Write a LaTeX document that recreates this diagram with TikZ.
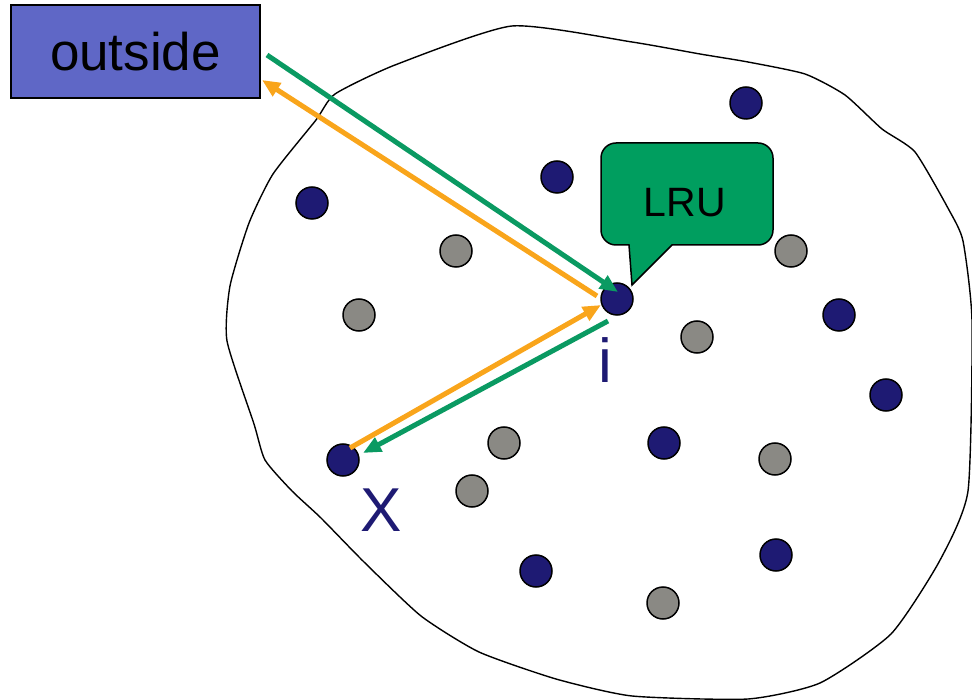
\documentclass[tikz,border=0pt]{standalone}
\usepackage{fontspec}
\setmainfont{Liberation Sans}
\usetikzlibrary{arrows.meta,positioning}
\definecolor{dotblue}{HTML}{1E1A73}
\definecolor{dotgray}{HTML}{8A8984}
\definecolor{boxblue}{HTML}{5F67C6}
\definecolor{lrugreen}{HTML}{009E5F}
\definecolor{arrgreen}{HTML}{0A9A62}
\definecolor{arrorange}{HTML}{F9A51B}
\tikzset{
  hotdot/.style={circle, draw=black, line width=1.5pt, fill=dotblue, minimum size=32pt, inner sep=0pt},
  colddot/.style={circle, draw=black, line width=1.5pt, fill=dotgray, minimum size=32pt, inner sep=0pt},
  outbox/.style={draw=black, line width=1.5pt, fill=boxblue, minimum width=249pt, minimum height=93pt, font=\fontsize{53}{60}\selectfont},
  lrubox/.style={draw=black, line width=1.5pt, fill=lrugreen},
  dotlabel/.style={text=dotblue, font=\fontsize{62}{70}\selectfont, inner sep=0pt},
  greenline/.style={-{Triangle[length=18pt,width=15pt]}, line width=5pt, draw=arrgreen},
  orangeline/.style={-{Triangle[length=18pt,width=15pt]}, line width=5pt, draw=arrorange}
}
\begin{document}
\begin{tikzpicture}[x=1pt, y=-1pt]
  \useasboundingbox (0,0) rectangle (972,700);
  % the cache
  \draw[line width=1.4pt, line join=round] plot[smooth cycle, tension=0.35] coordinates {
    (512,26) (632,42) (700,54) (748,62) (805,74) (845,95) (882,129) (915,152)
    (949,210) (963,241) (972,321) (968,491) (939,562) (891,634) (820,683)
    (748,699) (632,696) (556,679) (479,652) (421,616) (364,562) (321,518)
    (292,491) (265,460) (254,424) (227,341) (230,286) (249,223) (273,174)
    (316,120) (335,94) (395,65)};
  \node[outbox] (out) at (135.5,51.5) {outside};
  % dots
  \node[hotdot] (d1) at (746,103) {};
  \node[hotdot] (d2) at (557,177) {};
  \node[hotdot] (d3) at (312,203) {};
  \node[hotdot] (i) at (617,299) {};
  \node[hotdot] (d4) at (839,315) {};
  \node[hotdot] (d5) at (886,395) {};
  \node[hotdot] (d6) at (664,443) {};
  \node[hotdot] (x) at (343,460) {};
  \node[hotdot] (d7) at (776,555) {};
  \node[hotdot] (d8) at (536,571) {};
  \node[colddot] (g1) at (456,251) {};
  \node[colddot] (g2) at (791,251) {};
  \node[colddot] (g3) at (359,315) {};
  \node[colddot] (g4) at (697,337) {};
  \node[colddot] (g5) at (504,443) {};
  \node[colddot] (g6) at (775,459) {};
  \node[colddot] (g7) at (472,491) {};
  \node[colddot] (g8) at (663,603) {};
  \node[dotlabel] (ilabel) at (605,360) {i};
  \node[dotlabel] (xlabel) at (381,510) {X};
  % LRU callout
  \draw[lrubox] (629,245) [rounded corners=15pt] -- (601,245) -- (601,143) -- (773,143) -- (773,245) [sharp corners] -- (672,245) -- (632,285) -- cycle;
  \node[font=\fontsize{41}{48}\selectfont] (lru) at (685,203) {LRU};
  % arrows
  \coordinate (outgo) at (267,55);
  \coordinate (outin) at (262,80);
  \coordinate (iin) at (618,292);
  \coordinate (iout) at (597,296);
  \coordinate (iin2) at (601,305);
  \coordinate (iout2) at (608,321);
  \coordinate (xin) at (363,453);
  \coordinate (xout) at (350,448);
  \draw[greenline] (outgo) -- (iin);
  \draw[orangeline] (iout) -- (outin);
  \draw[orangeline] (xout) -- (iin2);
  \draw[greenline] (iout2) -- (xin);
\end{tikzpicture}
\end{document}
